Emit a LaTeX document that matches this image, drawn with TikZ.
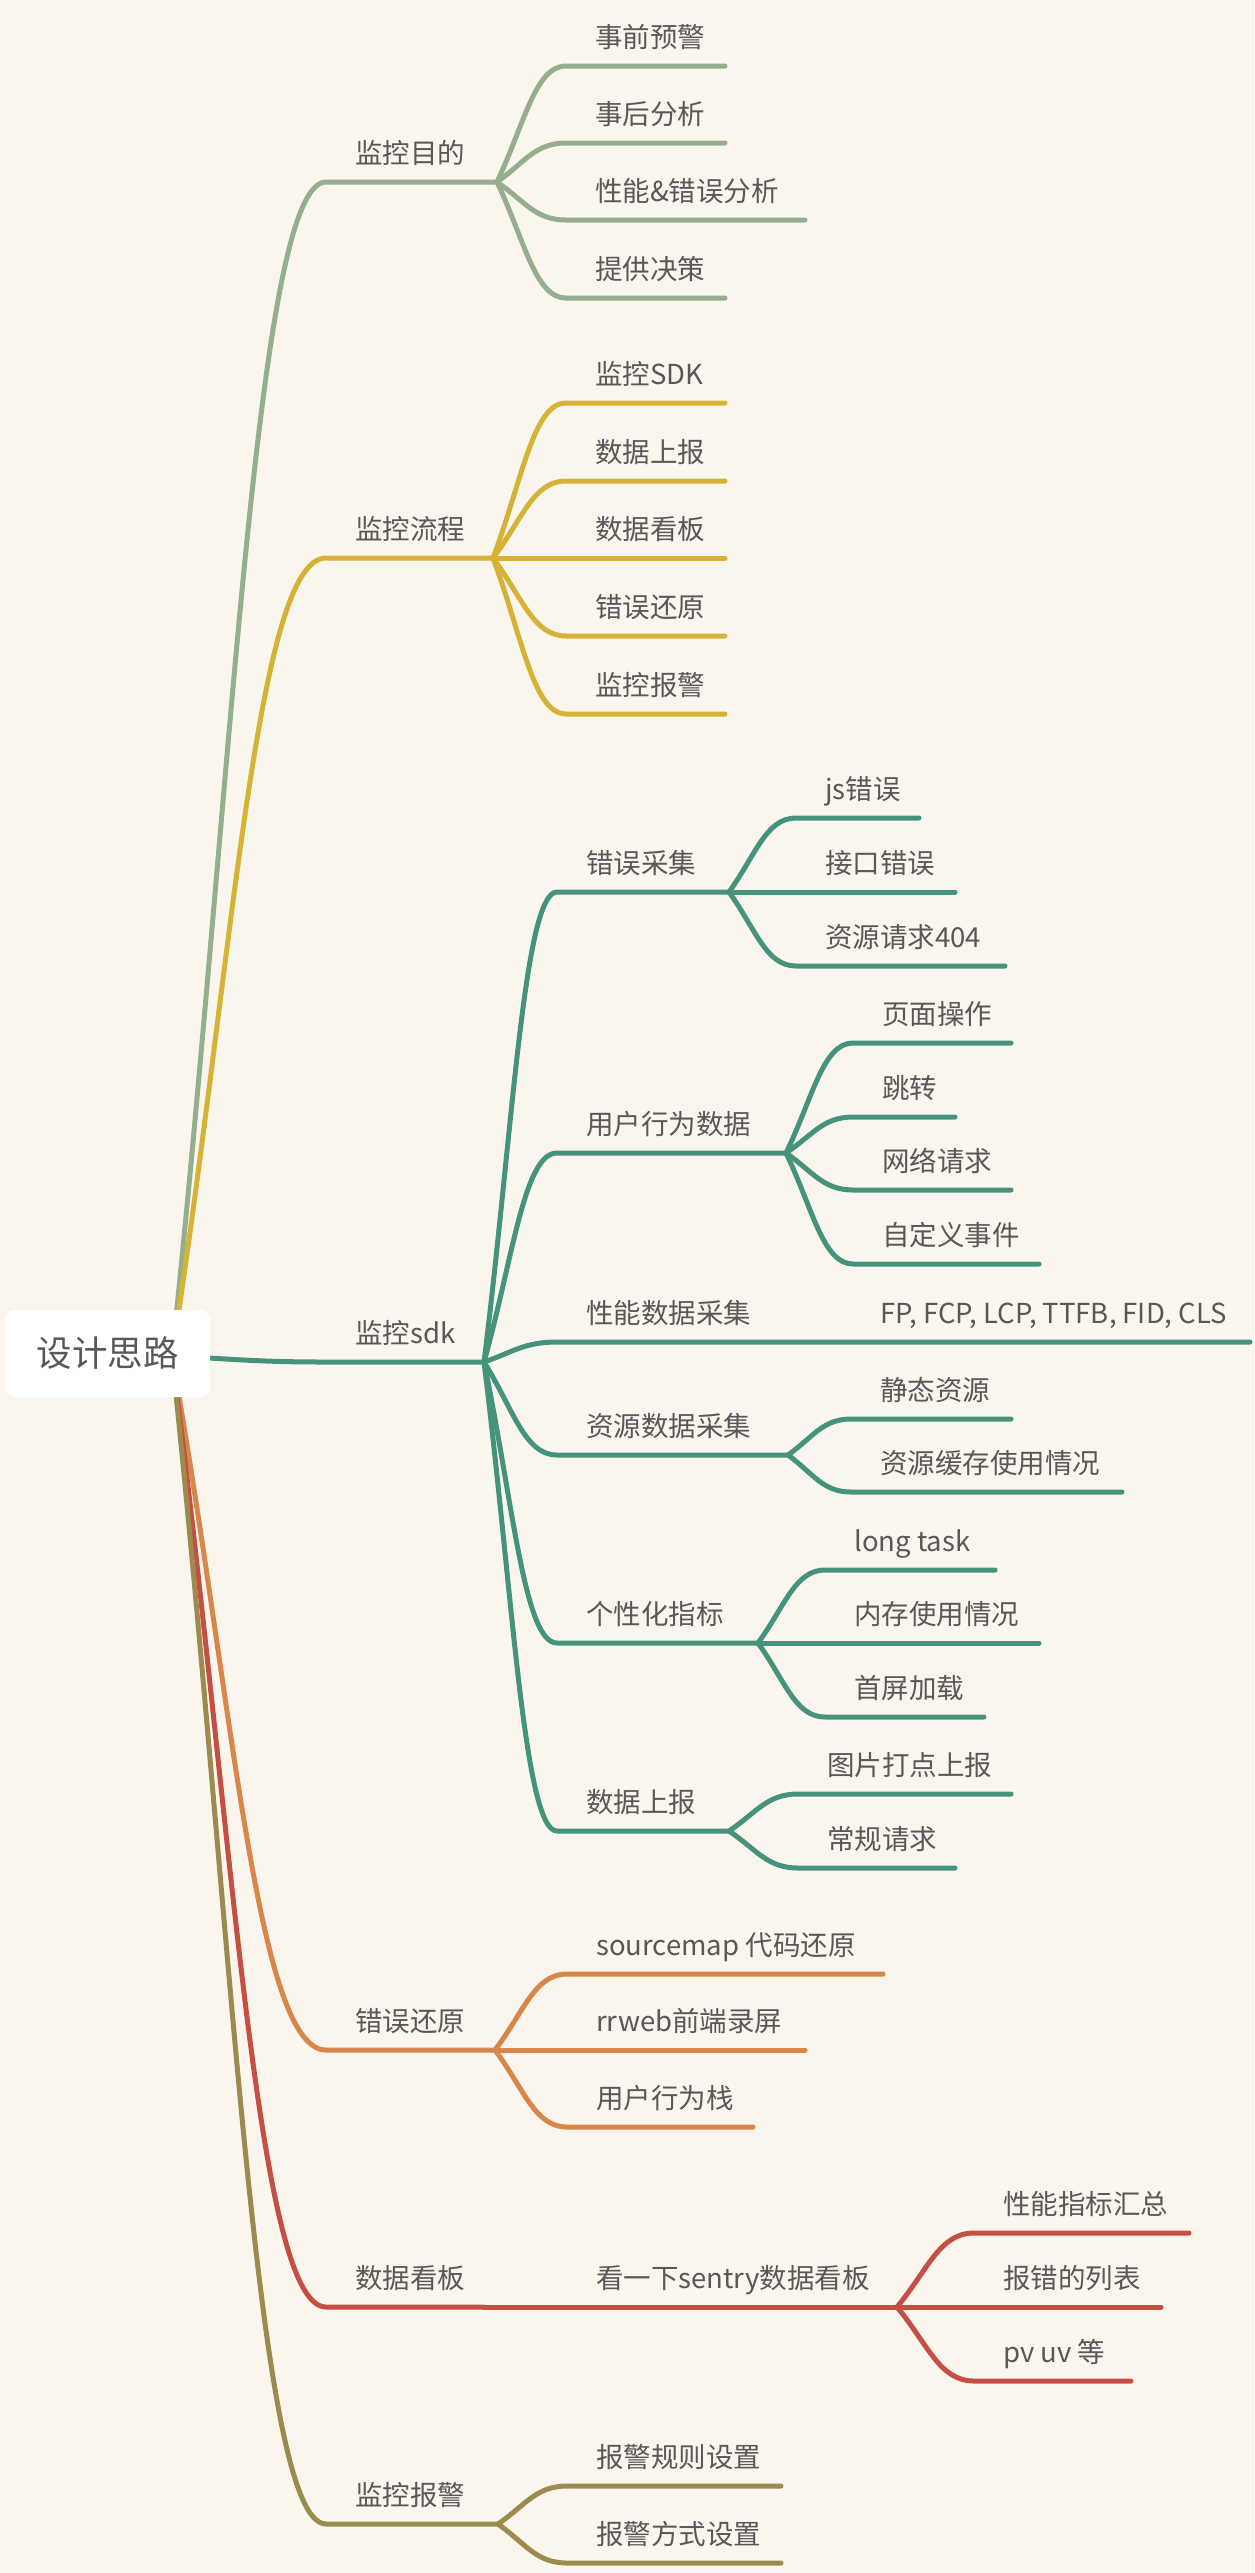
\documentclass[tikz,border=0pt]{standalone}
\usepackage{fontspec}
\setmainfont{Noto Sans CJK SC}
\usetikzlibrary{calc}
\definecolor{bg}{HTML}{FAF6EE}
\definecolor{txt}{HTML}{585858}
\definecolor{cA}{HTML}{95AF8E}
\definecolor{cB}{HTML}{D6B236}
\definecolor{cC}{HTML}{44937A}
\definecolor{cD}{HTML}{D8864A}
\definecolor{cE}{HTML}{C44F42}
\definecolor{cF}{HTML}{9C8B4F}
\tikzset{
  lbl/.style={anchor=base west, inner sep=0pt, text=txt, font=\fontsize{27.5}{33}\selectfont},
  wire/.style={line width=5pt, line cap=round, line join=round},
  rootbox/.style={fill=white, rounded corners=9pt, minimum width=205pt, minimum height=87pt, inner sep=0pt, text=txt, font=\fontsize{35.5}{42}\selectfont},
}
% #1 colour, #2 hub, #3 line start, #4 line end
\newcommand\brline[4]{\draw[wire,#1] let \p1=(#2),\p2=(#3) in (\p1) .. controls ({\x1+0.4*(\x2-\x1)},{\y1+0.5*(\y2-\y1)}) and ({\x2-0.45*(\x2-\x1)},\y2) .. (\p2) -- (#4);}
% #1 colour, #2 hub, #3 name, #4 text x, #5 line y, #6 end x, #7 text
\newcommand\mmnode[7]{%
  \coordinate (#3-s) at ({#4-29},#5);
  \coordinate (#3-e) at (#6,#5);
  \brline{#1}{#2}{#3-s}{#3-e}
  \node[lbl] (#3) at (#4,{#5-18.5}) {#7};
}
\begin{document}
\begin{tikzpicture}[x=1pt,y=-1pt]
\fill[bg] (0,0) rectangle (1254,2573);
\useasboundingbox (0,0) rectangle (1254,2573);
\coordinate (rootout) at (172,1356);

% group A
\mmnode{cA}{rootout}{A}{355}{182}{497}{监控目的}
\mmnode{cA}{A-e}{A1}{595}{66}{725}{事前预警}
\mmnode{cA}{A-e}{A2}{595}{143}{725}{事后分析}
\mmnode{cA}{A-e}{A3}{595}{220}{805}{性能\&错误分析}
\mmnode{cA}{A-e}{A4}{595}{298}{725}{提供决策}

% group B
\mmnode{cB}{rootout}{B}{355}{558}{493}{监控流程}
\mmnode{cB}{B-e}{B1}{595}{403}{725}{监控SDK}
\mmnode{cB}{B-e}{B2}{595}{481}{725}{数据上报}
\mmnode{cB}{B-e}{B3}{595}{558}{725}{数据看板}
\mmnode{cB}{B-e}{B4}{595}{636}{725}{错误还原}
\mmnode{cB}{B-e}{B5}{595}{714}{725}{监控报警}

% group C
\mmnode{cC}{rootout}{C}{355}{1362}{484}{监控sdk}
\mmnode{cC}{C-e}{C1}{586}{892}{729}{错误采集}
\mmnode{cC}{C-e}{C2}{586}{1153}{786}{用户行为数据}
\mmnode{cC}{C-e}{C3}{586}{1342}{1250}{性能数据采集}
\mmnode{cC}{C-e}{C4}{586}{1455}{788}{资源数据采集}
\mmnode{cC}{C-e}{C5}{586}{1643}{758}{个性化指标}
\mmnode{cC}{C-e}{C6}{586}{1831}{729}{数据上报}

\mmnode{cC}{C1-e}{C11}{825}{818}{919}{js错误}
\mmnode{cC}{C1-e}{C12}{825}{892}{955}{接口错误}
\mmnode{cC}{C1-e}{C13}{825}{966}{1005}{资源请求404}

\mmnode{cC}{C2-e}{C21}{882}{1043}{1011}{页面操作}
\mmnode{cC}{C2-e}{C22}{882}{1117}{955}{跳转}
\mmnode{cC}{C2-e}{C23}{882}{1190}{1011}{网络请求}
\mmnode{cC}{C2-e}{C24}{882}{1264}{1039}{自定义事件}

\node[lbl] (C31) at (880,1323.5) {FP, FCP, LCP, TTFB, FID, CLS};

\mmnode{cC}{C4-e}{C41}{880}{1419}{1011}{静态资源}
\mmnode{cC}{C4-e}{C42}{880}{1492}{1122}{资源缓存使用情况}

\mmnode{cC}{C5-e}{C51}{854}{1570}{995}{long task}
\mmnode{cC}{C5-e}{C52}{854}{1643}{1039}{内存使用情况}
\mmnode{cC}{C5-e}{C53}{854}{1717}{984}{首屏加载}

\mmnode{cC}{C6-e}{C61}{827}{1794}{1011}{图片打点上报}
\mmnode{cC}{C6-e}{C62}{827}{1868}{955}{常规请求}

% group D
\mmnode{cD}{rootout}{D}{355}{2050}{495}{错误还原}
\mmnode{cD}{D-e}{D1}{596}{1974}{883}{sourcemap 代码还原}
\mmnode{cD}{D-e}{D2}{596}{2050}{805}{rrweb前端录屏}
\mmnode{cD}{D-e}{D3}{596}{2127}{753}{用户行为栈}

% group E
\mmnode{cE}{rootout}{E}{355}{2307}{484}{数据看板}
\mmnode{cE}{E-e}{E0}{596}{2307}{897}{看一下sentry数据看板}
\mmnode{cE}{E0-e}{E1}{1003}{2233}{1189}{性能指标汇总}
\mmnode{cE}{E0-e}{E2}{1003}{2307}{1161}{报错的列表}
\mmnode{cE}{E0-e}{E3}{1003}{2381}{1131}{pv uv 等}

% group F
\mmnode{cF}{rootout}{F}{355}{2524}{498}{监控报警}
\mmnode{cF}{F-e}{F1}{596}{2486}{781}{报警规则设置}
\mmnode{cF}{F-e}{F2}{596}{2563}{781}{报警方式设置}

\node[rootbox] (root) at (107.5,1353.5) {设计思路};
\end{tikzpicture}
\end{document}
